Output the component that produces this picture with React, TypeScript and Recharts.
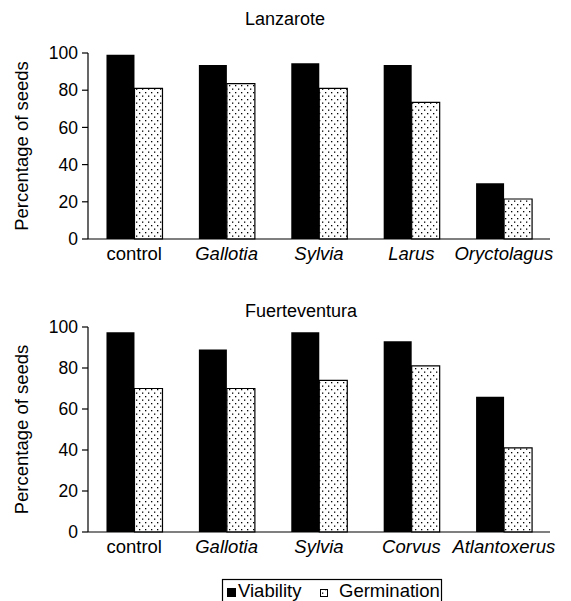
import React from 'react';
import { Bar, BarChart, Label, XAxis, YAxis } from 'recharts';

const FONT = '"Liberation Sans", Arial, Helvetica, sans-serif';

// Lanzarote panel
const lanzaroteCategories = ['control', 'Gallotia', 'Sylvia', 'Larus', 'Oryctolagus'];
const lanzaroteViability = [99, 93.5, 94.5, 93.5, 30];
const lanzaroteGermination = [81, 83.5, 81, 73.5, 21.5];

// Fuerteventura panel
const fuerteCategories = ['control', 'Gallotia', 'Sylvia', 'Corvus', 'Atlantoxerus'];
const fuerteViability = [97.5, 89, 97.5, 93, 66];
const fuerteGermination = [70, 70, 74, 81, 41];

const yTicks = [0, 20, 40, 60, 80, 100];
const seriesNames = ['Viability', 'Germination'];
const yLabel = 'Percentage of seeds';

const toRows = (cats: string[], v: number[], g: number[]) =>
  cats.map((name, i) => ({ name, viability: v[i], germination: g[i] }));

function CategoryTick({ x, y, payload }: any) {
  const italic = payload.value !== 'control';
  return (
    <text
      x={x}
      y={y}
      dy="0.71em"
      textAnchor="middle"
      fontSize={18.5}
      fontFamily={FONT}
      fontStyle={italic ? 'italic' : 'normal'}
      fill="#000"
    >
      {payload.value}
    </text>
  );
}

function renderYLabel(props: any) {
  const vb = props.viewBox || { x: 0, y: 0, width: 0, height: 0 };
  const cx = 28;
  const cy = vb.y + vb.height / 2;
  return (
    <text
      x={cx}
      y={cy}
      transform={`rotate(-90, ${cx}, ${cy})`}
      textAnchor="middle"
      fontSize={18.5}
      fontFamily={FONT}
      fill="#000"
    >
      {yLabel}
    </text>
  );
}

function Panel({ data, height, top, xHeight }: { data: any[]; height: number; top: number; xHeight: number }) {
  return (
    <BarChart
      width={571}
      height={height}
      data={data}
      margin={{ top, right: 21, bottom: 0, left: 0 }}
      barCategoryGap="20%"
      barGap={0}
    >
      <XAxis
        dataKey="name"
        height={xHeight}
        tickLine={false}
        axisLine={{ stroke: '#000', strokeWidth: 1.2 }}
        tick={<CategoryTick />}
        interval={0}
      />
      <YAxis
        width={88}
        domain={[0, 100]}
        ticks={yTicks}
        interval={0}
        tickSize={6}
        tickMargin={4}
        axisLine={{ stroke: '#000', strokeWidth: 1.2 }}
        tickLine={{ stroke: '#000', strokeWidth: 1.2 }}
        tick={{ fontSize: 17.5, fill: '#000', fontFamily: FONT }}
      >
        <Label content={renderYLabel} />
      </YAxis>
      <Bar dataKey="viability" name={seriesNames[0]} fill="#000" isAnimationActive={false} />
      <Bar
        dataKey="germination"
        name={seriesNames[1]}
        fill="url(#seedDots)"
        stroke="#000"
        strokeWidth={1.2}
        isAnimationActive={false}
      />
    </BarChart>
  );
}

export default function App() {
  const topData = toRows(lanzaroteCategories, lanzaroteViability, lanzaroteGermination);
  const bottomData = toRows(fuerteCategories, fuerteViability, fuerteGermination);

  return (
    <div
      style={{
        position: 'absolute',
        left: 0,
        top: 0,
        width: 571,
        height: 601,
        overflow: 'hidden',
        background: '#fff',
      }}
    >
      <svg width={0} height={0} style={{ position: 'absolute' }}>
        <defs>
          <pattern id="seedDots" width={6} height={7} patternUnits="userSpaceOnUse">
            <rect width={6} height={7} fill="#fff" />
            <rect x={1} y={1} width={1.3} height={1.3} fill="#000" />
            <rect x={4} y={4.5} width={1.3} height={1.3} fill="#000" />
          </pattern>
        </defs>
      </svg>

      <div style={{ position: 'absolute', left: 0, top: 0 }}>
        <Panel data={topData} height={290} top={53} xHeight={51} />
      </div>
      <div style={{ position: 'absolute', left: 0, top: 290 }}>
        <Panel data={bottomData} height={311} top={37} xHeight={69} />
      </div>

      <svg width={571} height={601} style={{ position: 'absolute', left: 0, top: 0, pointerEvents: 'none' }}>
        <text x={245} y={25} fontSize={18} fontFamily={FONT} fill="#000">
          Lanzarote
        </text>
        <text x={245} y={317} fontSize={18} fontFamily={FONT} fill="#000">
          Fuerteventura
        </text>

        <rect x={222.5} y={579.5} width={219} height={30} fill="#fff" stroke="#000" strokeWidth={1.2} />
        <rect x={227} y={588} width={9} height={9} fill="#000" />
        <text x={238} y={597} fontSize={18.5} fontFamily={FONT} fill="#000">
          {seriesNames[0]}
        </text>
        <rect x={320.5} y={589.5} width={7} height={7} fill="url(#seedDots)" stroke="#000" strokeWidth={1} />
        <text x={339} y={597} fontSize={18.5} fontFamily={FONT} fill="#000">
          {seriesNames[1]}
        </text>
      </svg>
    </div>
  );
}
